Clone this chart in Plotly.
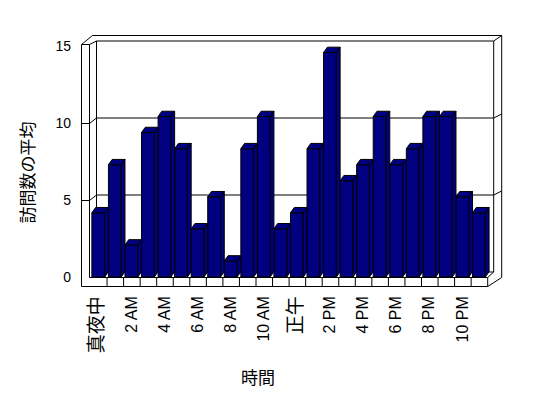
import plotly.graph_objects as go

# ---------------- data ----------------
hours = list(range(24))
values = [4.17, 7.29, 2.08, 9.38, 10.42, 8.33, 3.13, 5.21, 1.04, 8.33, 10.42, 3.13,
          4.17, 8.33, 14.58, 6.25, 7.29, 10.42, 7.29, 8.33, 10.42, 10.42, 5.21, 4.17]
tick_positions = [0, 2, 4, 6, 8, 10, 12, 14, 16, 18, 20, 22]
tick_labels = ["真夜中", "2 AM", "4 AM", "6 AM", "8 AM", "10 AM",
               "正午", "2 PM", "4 PM", "6 PM", "8 PM", "10 PM"]
y_ticks = [0, 5, 10, 15]
x_title = "時間"
y_title = "訪問数の平均"

# ---------------- geometry (pixels) ----------------
W, H = 548, 398
PL, PR, PT, PB = 72, 510, 28, 292          # plot area
X0, STEP = 90.0, 16.55                       # first category left edge, category width
Y0, K = 277.0, 15.4                          # front floor line, px per unit
BW = 12.8                                    # bar front width (px)
DBX, DBY = STEP - BW, 5.3                    # bar depth offset (px)
DX, DY = 6.0, 5.5                            # back wall depth
OX, OY = 8.0, 5.5                            # wall thickness
NAVY = "#000080"

def X(px):
    return (px - X0) / STEP - 0.5

def Y(py):
    return (Y0 - py) / K

N = len(values)
XR = X0 + STEP * N           # right edge of floor front
YTOP = Y0 - K * max(y_ticks)  # front y of top value

fig = go.Figure()

# front faces
fig.add_bar(x=hours, y=values, width=BW / STEP,
            marker=dict(color=NAVY, line=dict(color="black", width=1)),
            hoverinfo="skip", showlegend=False)

# side + top faces
dx, dy, hw = DBX / STEP, DBY / K, BW / STEP / 2
xs, ys = [], []
for i, v in zip(hours, values):
    xl, xr = i - hw, i + hw
    xs += [xr, xr, xr + dx, xr + dx, xr, None]
    ys += [0, v, v + dy, dy, 0, None]
    xs += [xl, xl + dx, xr + dx, xr, xl, None]
    ys += [v, v + dy, v + dy, v, v, None]
fig.add_scatter(x=xs, y=ys, mode="lines", fill="toself", fillcolor=NAVY,
                line=dict(color="black", width=1), hoverinfo="skip", showlegend=False)

# ---------------- walls / floor (decor) ----------------
segs = []
def seg(a, b, c, d):
    segs.append((a + 0.5, b + 0.5, c + 0.5, d + 0.5))

LW0, LW1 = 81, 89          # left wall front face
FB = Y0 + 9                 # floor bottom
xbL, xbR = X0 + DX, XR + DX
yb = lambda v: Y0 - K * v - DY
yf = lambda v: Y0 - K * v
wall_top_front = YTOP - 2
# left wall
seg(LW0, wall_top_front, LW0, FB)
seg(LW1, wall_top_front, LW1, Y0)
seg(LW0, wall_top_front, LW1, wall_top_front)
seg(LW0, wall_top_front, LW0 + 11, yb(15) - OY)
seg(LW1, wall_top_front, xbL, yb(15))
# back wall
seg(LW0 + 11, yb(15) - OY, xbR + OX, yb(15) - OY)
seg(xbL, yb(15), xbR, yb(15))
seg(xbL, yb(15), xbL, yb(0))
seg(xbR, yb(15), xbR, yb(0))
seg(xbR + OX, yb(15) - OY, xbR + OX, Y0)
seg(xbR, yb(15), xbR + OX, yb(15) - OY)
for v in y_ticks[1:-1]:
    seg(xbL, yb(v), xbR, yb(v))
    seg(LW0, yf(v), LW1, yf(v))
    seg(LW1, yf(v), xbL, yb(v))
    seg(xbR, yb(v), xbR + OX, yb(v) - 4)
# floor
seg(LW1, Y0, XR, Y0)
seg(LW0, FB, XR, FB)
for k in range(1, N + 1):
    seg(X0 + STEP * k, Y0, X0 + STEP * k, FB)
seg(XR, FB, xbR + OX, Y0)
seg(XR, Y0, xbR, yb(0))
seg(xbL, yb(0), xbR, yb(0))

for a, b, c, d in segs:
    fig.add_shape(type="line", xref="x", yref="y", x0=X(a), y0=Y(b), x1=X(c), y1=Y(d),
                  layer="below", line=dict(color="black", width=1))

# ---------------- titles ----------------
def xp(px):
    return (px - PL) / (PR - PL)

def ypp(py):
    return (PB - py) / (PB - PT)

fig.add_annotation(text=y_title, xref="paper", yref="paper", x=xp(25.5), y=ypp(173),
                   textangle=-90, showarrow=False, xanchor="center", yanchor="middle",
                   font=dict(family="Noto Sans CJK JP", size=17, color="black"))
fig.add_annotation(text=x_title, xref="paper", yref="paper", x=xp(258), y=ypp(376),
                   showarrow=False, xanchor="center", yanchor="middle",
                   font=dict(family="Noto Sans CJK JP", size=17, color="black"))

ticktext = [('<span style="font-size:19px">%s</span>' % t) if not t[0].isdigit() else t
            for t in tick_labels]

fig.update_layout(
    width=W, height=H,
    margin=dict(l=PL, r=W - PR, t=PT, b=H - PB, pad=0),
    plot_bgcolor="white", paper_bgcolor="white",
    showlegend=False,
    xaxis=dict(range=[X(PL), X(PR)], showgrid=False, zeroline=False, showline=False,
               tickmode="array", tickvals=tick_positions, ticktext=ticktext,
               tickangle=-90, ticks="", automargin=False, fixedrange=True,
               tickfont=dict(family="Liberation Sans, Noto Sans CJK JP", size=16, color="black")),
    yaxis=dict(range=[Y(PB), Y(PT)], showgrid=False, zeroline=False, showline=False,
               tickmode="array", tickvals=y_ticks, ticks="", automargin=False, fixedrange=True,
               tickfont=dict(family="Liberation Sans", size=14, color="black")),
)

fig.write_html("out.html", config={"displayModeBar": False},
               post_script="document.body.style.margin='0';document.body.style.overflow='hidden';")
